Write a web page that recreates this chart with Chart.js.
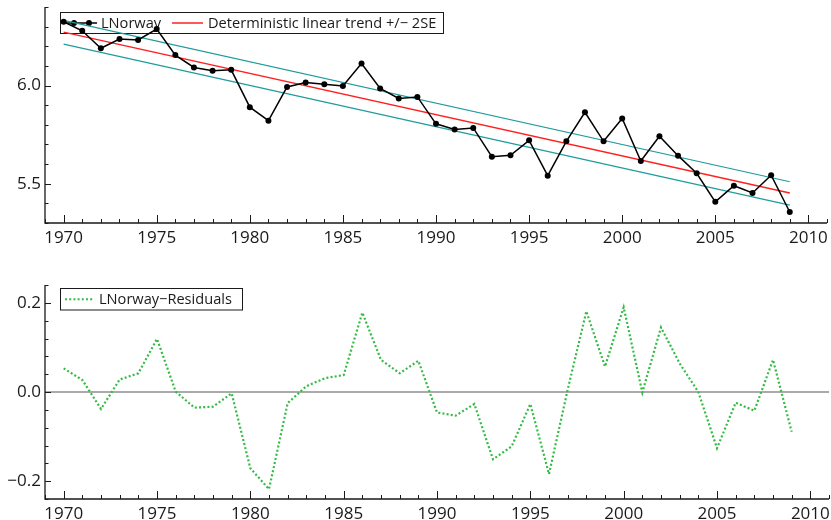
<!DOCTYPE html>
<html>
<head>
<meta charset="utf-8">
<script src="https://cdn.jsdelivr.net/npm/chart.js@4.4.1/dist/chart.umd.min.js"></script>
<style>
  html, body { margin: 0; padding: 0; background: #fff; }
  #wrap { position: relative; width: 831px; height: 520px; overflow: hidden; }
  canvas { position: absolute; left: 0; }
  #topChart { top: 0; }
  #bottomChart { top: 255px; }
</style>
</head>
<body>
<div id="wrap">
  <canvas id="topChart" width="831" height="255"></canvas>
  <canvas id="bottomChart" width="831" height="265"></canvas>
</div>
<script>
// data
const years = [1970, 1971, 1972, 1973, 1974, 1975, 1976, 1977, 1978, 1979,
               1980, 1981, 1982, 1983, 1984, 1985, 1986, 1987, 1988, 1989,
               1990, 1991, 1992, 1993, 1994, 1995, 1996, 1997, 1998, 1999,
               2000, 2001, 2002, 2003, 2004, 2005, 2006, 2007, 2008, 2009];
const lnorway = [6.325, 6.279, 6.190, 6.237, 6.232, 6.288, 6.155, 6.092, 6.075, 6.080,
                 5.890, 5.821, 5.993, 6.015, 6.007, 5.998, 6.112, 5.985, 5.934, 5.942,
                 5.805, 5.776, 5.784, 5.638, 5.645, 5.721, 5.541, 5.716, 5.864, 5.716,
                 5.832, 5.616, 5.742, 5.643, 5.553, 5.408, 5.490, 5.453, 5.543, 5.356];
const trendYears = [1970, 2009];
const trend = [6.272, 5.453];
const trendUpper = [6.332, 5.510];
const trendLower = [6.211, 5.391];
const residuals = [0.053, 0.027, -0.038, 0.028, 0.042, 0.119, 0.001, -0.035, -0.033, -0.003,
                   -0.171, -0.218, -0.025, 0.013, 0.031, 0.038, 0.178, 0.072, 0.042, 0.070,
                   -0.046, -0.053, -0.027, -0.151, -0.122, -0.027, -0.184, 0.005, 0.181, 0.057,
                   0.190, -0.001, 0.145, 0.064, 0.000, -0.126, -0.024, -0.042, 0.072, -0.089];
const xTicks = [1970, 1975, 1980, 1985, 1990, 1995, 2000, 2005, 2010];
const topYTicks = [5.5, 6.0];
const bottomYTicks = [-0.2, 0.0, 0.2];

const FONT = '"Open Sans", "DejaVu Sans", sans-serif';
const INK = "#1a1a1a";
const TEAL = "#1f9c9c";
const RED = "#ff2020";
const GREEN = "#33bb44";

const pts = (xs, ys) => xs.map((x, i) => ({ x: x, y: ys[i] }));

// axis lines with inward ticks, like the original package draws them
function frameplugin(yMinorStep, zeroLine) {
    return {
        id: "frame",
        beforeDatasetsDraw(chart) {
            if (!zeroLine) return;
            const { ctx, chartArea, scales } = chart;
            const y0 = scales.y.getPixelForValue(0);
            ctx.save();
            ctx.strokeStyle = "#aaaaaa";
            ctx.lineWidth = 2;
            ctx.beginPath();
            ctx.moveTo(chartArea.left, y0);
            ctx.lineTo(chartArea.right, y0);
            ctx.stroke();
            ctx.restore();
        },
        afterDraw(chart) {
            const { ctx, chartArea: a, scales } = chart;
            const x = scales.x, y = scales.y;
            ctx.save();
            ctx.strokeStyle = INK;
            ctx.lineWidth = 1.3;
            ctx.beginPath();
            ctx.moveTo(a.left, a.top);
            ctx.lineTo(a.left, a.bottom);
            ctx.lineTo(a.right, a.bottom);
            ctx.stroke();

            ctx.lineWidth = 1;
            ctx.beginPath();
            for (let yr = Math.ceil(x.min); yr <= x.max; yr++) {
                const px = Math.round(x.getPixelForValue(yr)) + 0.5;
                const len = yr % 5 === 0 ? 8 : 4;
                ctx.moveTo(px, a.bottom);
                ctx.lineTo(px, a.bottom - len);
            }
            const n0 = Math.ceil(y.min / yMinorStep - 1e-6);
            const n1 = Math.floor(y.max / yMinorStep + 1e-6);
            const majors = y.ticks.map(t => t.value);
            for (let k = n0; k <= n1; k++) {
                const v = k * yMinorStep;
                const py = Math.round(y.getPixelForValue(v)) + 0.5;
                const major = majors.some(m => Math.abs(m - v) < 1e-6);
                ctx.moveTo(a.left, py);
                ctx.lineTo(a.left + (major ? 6 : 3.5), py);
            }
            ctx.stroke();
            ctx.restore();
        }
    };
}

// legend box drawn inside the plot, under the lines; items come from the datasets
function legendplugin(box, items) {
    return {
        id: "boxlegend",
        beforeDatasetsDraw(chart) {
            const ctx = chart.ctx;
            ctx.save();
            ctx.strokeStyle = INK;
            ctx.lineWidth = 1;
            ctx.fillStyle = "#fff";
            ctx.fillRect(box.x, box.y, box.w, box.h);
            ctx.strokeRect(box.x, box.y, box.w, box.h);
            const cy = box.y + box.h / 2;
            items.forEach(it => {
                const ds = chart.data.datasets[it.ds];
                ctx.strokeStyle = ds.borderColor;
                ctx.lineWidth = ds.borderWidth;
                ctx.setLineDash(ds.borderDash || []);
                ctx.beginPath();
                ctx.moveTo(it.x0, cy);
                ctx.lineTo(it.x1, cy);
                ctx.stroke();
                ctx.setLineDash([]);
                (it.dots || []).forEach(dx => {
                    ctx.fillStyle = ds.pointBackgroundColor;
                    ctx.beginPath();
                    ctx.arc(dx, cy, 3, 0, Math.PI * 2);
                    ctx.fill();
                });
                ctx.fillStyle = INK;
                ctx.font = "14.6px " + FONT;
                ctx.textBaseline = "middle";
                ctx.textAlign = "left";
                ctx.fillText(ds.label, it.tx, cy + 0.5);
            });
            ctx.restore();
        }
    };
}

function zeroPad(s) {
    s.paddingTop = 0;
    s.paddingBottom = 0;
    s.paddingLeft = 0;
    s.paddingRight = 0;
}

function baseOptions(yMin, yMax, yTicks, xHeight, padTop, fmt) {
    return {
        responsive: false,
        animation: false,
        events: [],
        layout: { padding: { left: 0, right: 2, top: padTop, bottom: 0 } },
        plugins: { legend: { display: false }, tooltip: { enabled: false } },
        scales: {
            x: {
                type: "linear",
                min: 1969,
                max: 2011,
                grid: { display: false, drawTicks: false },
                border: { display: false },
                afterBuildTicks: s => { s.ticks = xTicks.map(v => ({ value: v })); },
                afterFit: s => { s.height = xHeight; zeroPad(s); },
                ticks: {
                    color: INK,
                    padding: 5,
                    maxRotation: 0,
                    autoSkip: false,
                    font: { family: FONT, size: 17 },
                    callback: v => String(v)
                }
            },
            y: {
                type: "linear",
                min: yMin,
                max: yMax,
                grid: { display: false, drawTicks: false },
                border: { display: false },
                afterBuildTicks: s => { s.ticks = yTicks.map(v => ({ value: v })); },
                afterFit: s => { s.width = 45; zeroPad(s); },
                ticks: {
                    color: INK,
                    padding: 4,
                    font: { family: FONT, size: 17 },
                    callback: fmt
                }
            }
        }
    };
}

const topChart = new Chart(document.getElementById("topChart"), {
    type: "line",
    data: {
        datasets: [
            {
                label: "LNorway",
                data: pts(years, lnorway),
                borderColor: "#000",
                borderWidth: 1.5,
                pointRadius: 3,
                pointBackgroundColor: "#000",
                pointBorderWidth: 0,
                tension: 0
            },
            {
                label: "Deterministic linear trend +/\u2212 2SE",
                data: pts(trendYears, trend),
                borderColor: RED,
                borderWidth: 1.5,
                pointRadius: 0
            },
            {
                label: "upper",
                data: pts(trendYears, trendUpper),
                borderColor: TEAL,
                borderWidth: 1.2,
                pointRadius: 0
            },
            {
                label: "lower",
                data: pts(trendYears, trendLower),
                borderColor: TEAL,
                borderWidth: 1.2,
                pointRadius: 0
            }
        ]
    },
    options: baseOptions(5.30, 6.40, topYTicks, 32, 7, v => v.toFixed(1)),
    plugins: [
        frameplugin(0.1, false),
        legendplugin({ x: 60.5, y: 12.5, w: 383, h: 21 }, [
            { ds: 0, x0: 63, x1: 97, dots: [74, 89], tx: 101 },
            { ds: 1, x0: 172, x1: 203, tx: 208 }
        ])
    ]
});

const bottomChart = new Chart(document.getElementById("bottomChart"), {
    type: "line",
    data: {
        datasets: [
            {
                label: "LNorway\u2212Residuals",
                data: pts(years, residuals),
                borderColor: GREEN,
                borderWidth: 2.2,
                borderDash: [2, 2.2],
                pointRadius: 0,
                tension: 0
            }
        ]
    },
    options: baseOptions(-0.24, 0.24, bottomYTicks, 21, 30,
        v => (v < 0 ? "\u2212" : "") + Math.abs(v).toFixed(1)),
    plugins: [
        frameplugin(0.04, true),
        legendplugin({ x: 60.5, y: 33.5, w: 182, h: 21.5 }, [
            { ds: 0, x0: 65, x1: 94, tx: 99 }
        ])
    ]
});
</script>
</body>
</html>
